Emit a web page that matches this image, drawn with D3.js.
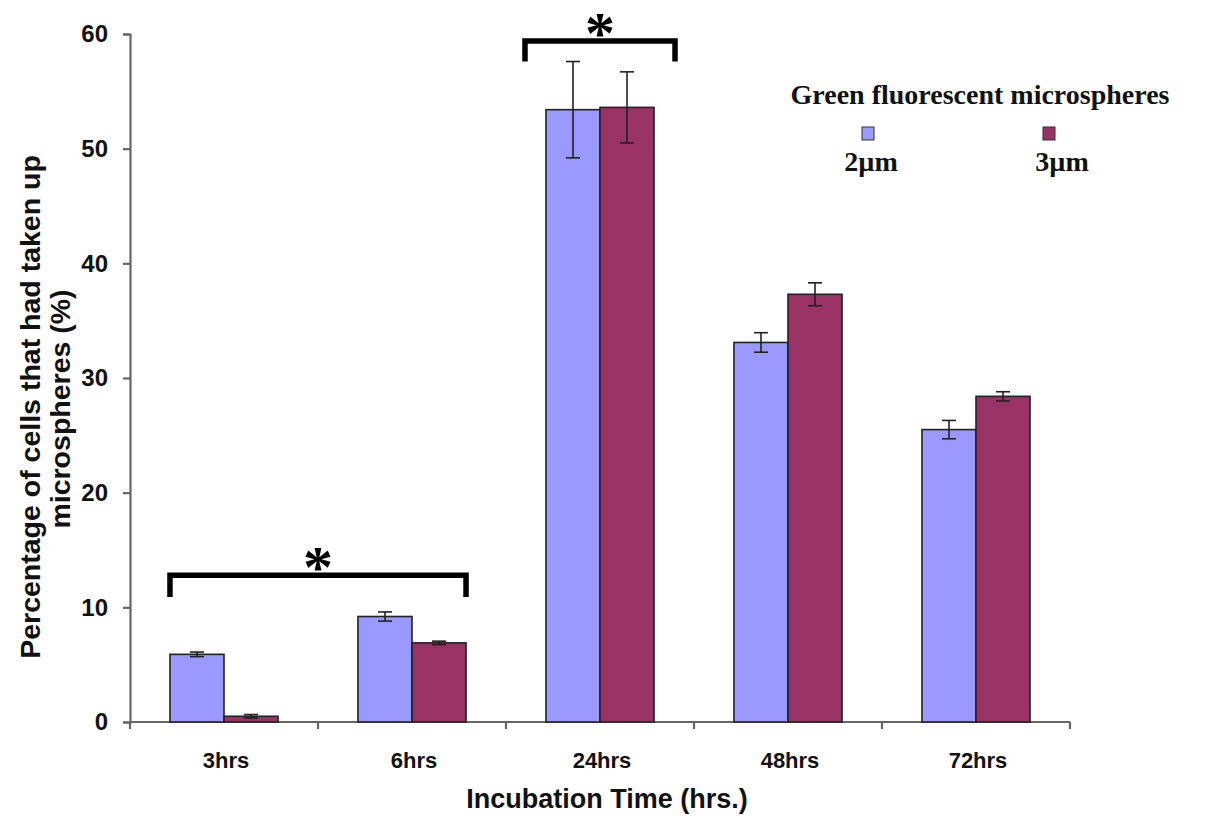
<!DOCTYPE html>
<html><head><meta charset="utf-8">
<script src="https://cdn.jsdelivr.net/npm/d3@7"></script>
<style>body{margin:0;background:#fff}svg{display:block}</style>
</head><body>
<svg id="c" width="1207" height="818"></svg>
<script>
const categories = ["3hrs","6hrs","24hrs","48hrs","72hrs"];
const seriesNames = ["2\u00b5m","3\u00b5m"];
const values2um = [5.9, 9.2, 53.4, 33.1, 25.5];
const values3um = [0.5, 6.9, 53.6, 37.3, 28.4];
const err2um = [0.2, 0.4, 4.2, 0.85, 0.8];
const err3um = [0.15, 0.15, 3.1, 1.0, 0.4];
const yTicks = [0,10,20,30,40,50,60];
const colors = ["#9999FF","#993366"];
const brackets = [
  {from:"3hrs", to:"6hrs", y:12.8, drop:1.9},
  {from:"24hrs", to:"24hrs", y:59.4, drop:1.8}
];

(function(){
const svg = d3.select("#c");
const sans = "Arial, 'Liberation Sans', sans-serif";
const serif = "'Times New Roman', 'Liberation Serif', serif";
const mLeft = 130, mRight = 1070, mTop = 34, mBottom = 722;
const x = d3.scaleBand().domain(categories).range([mLeft, mRight]).paddingInner(0).paddingOuter(0);
const xs = d3.scaleBand().domain([0,1]).range([0, x.bandwidth()]).paddingInner(0).paddingOuter(0.74);
const y = d3.scaleLinear().domain([0,60]).range([mBottom, mTop]);

// y axis
const yAxis = d3.axisLeft(y).tickValues(yTicks).tickSize(7).tickPadding(15);
const gy = svg.append("g").attr("transform",`translate(${mLeft},0)`).call(yAxis);
gy.select(".domain").attr("stroke","#666").attr("stroke-width",2.2);
gy.selectAll(".tick line").attr("stroke","#666").attr("stroke-width",2.2);
gy.selectAll("text").attr("font-family",sans).attr("font-weight","bold").attr("font-size",24).attr("fill","#111");

// x axis
const gx = svg.append("g").attr("transform",`translate(0,${mBottom})`);
gx.append("line").attr("x1",mLeft).attr("x2",mRight).attr("y1",0).attr("y2",0).attr("stroke","#666").attr("stroke-width",2.2);
const bounds = categories.map(c=>x(c)).concat([mRight]);
gx.selectAll("line.tk").data(bounds).enter().append("line").attr("class","tk")
  .attr("x1",d=>d).attr("x2",d=>d).attr("y1",0).attr("y2",7).attr("stroke","#666").attr("stroke-width",2.2);
gx.selectAll("text").data(categories).enter().append("text")
  .attr("x",d=>x(d)+x.bandwidth()/2+2).attr("y",46).attr("text-anchor","middle")
  .attr("font-family",sans).attr("font-weight","bold").attr("font-size",22).attr("fill","#111")
  .text(d=>d);

// bars
const data = categories.map((c,i)=>({c, vals:[values2um[i], values3um[i]], errs:[err2um[i], err3um[i]]}));
const grp = svg.append("g");
data.forEach(d=>{
  d.vals.forEach((v,s)=>{
    const bx = x(d.c)+xs(s);
    grp.append("rect").attr("x",bx).attr("y",y(v)).attr("width",xs.bandwidth()).attr("height",y(0)-y(v))
      .attr("fill",colors[s]).attr("stroke","#222").attr("stroke-width",1.6);
  });
});
// error bars
data.forEach(d=>{
  d.vals.forEach((v,s)=>{
    const cx = x(d.c)+xs(s)+xs.bandwidth()/2;
    const e = d.errs[s];
    const g = svg.append("g").attr("stroke","#222").attr("stroke-width",1.6);
    g.append("line").attr("x1",cx).attr("x2",cx).attr("y1",y(v+e)).attr("y2",y(v-e));
    g.append("line").attr("x1",cx-7).attr("x2",cx+7).attr("y1",y(v+e)).attr("y2",y(v+e));
    g.append("line").attr("x1",cx-7).attr("x2",cx+7).attr("y1",y(v-e)).attr("y2",y(v-e));
  });
});

// significance brackets
brackets.forEach(b=>{
  const ext = b.from === b.to ? 21 : 0;
  const x1 = x(b.from)+xs(0)-ext, x2 = x(b.to)+xs(1)+xs.bandwidth()+ext;
  svg.append("path").attr("d",`M${x1},${y(b.y-b.drop)}V${y(b.y)}H${x2}V${y(b.y-b.drop)}`)
    .attr("fill","none").attr("stroke","#000").attr("stroke-width",5.5);
  svg.append("text").attr("x",(x1+x2)/2).attr("y",y(b.y)+12).attr("text-anchor","middle")
    .attr("font-family",serif).attr("font-weight","bold").attr("font-size",60).attr("fill","#000")
    .text("*");
});

// axis titles
svg.append("text").attr("transform","translate(40,407) rotate(-90)").attr("text-anchor","middle")
  .attr("font-family",sans).attr("font-weight","bold").attr("font-size",28.5).attr("fill","#111")
  .text("Percentage of cells that had taken up");
svg.append("text").attr("transform","translate(70,409) rotate(-90)").attr("text-anchor","middle")
  .attr("font-family",sans).attr("font-weight","bold").attr("font-size",28.5).attr("fill","#111")
  .text("microspheres (%)");
svg.append("text").attr("x",607).attr("y",808).attr("text-anchor","middle")
  .attr("font-family",sans).attr("font-weight","bold").attr("font-size",27).attr("fill","#111")
  .text("Incubation Time (hrs.)");

// legend
const lg = svg.append("g");
lg.append("text").attr("x",980).attr("y",104).attr("text-anchor","middle")
  .attr("font-family",serif).attr("font-weight","bold").attr("font-size",28).attr("fill","#111")
  .text("Green fluorescent microspheres");
const swX = [868, 1049];
const labX = [871, 1062];
seriesNames.forEach((n,i)=>{
  lg.append("rect").attr("x",swX[i]-6).attr("y",127).attr("width",12).attr("height",13)
    .attr("fill",colors[i]).attr("stroke","#333").attr("stroke-width",1);
  lg.append("text").attr("x",labX[i]).attr("y",171).attr("text-anchor","middle")
    .attr("font-family",serif).attr("font-weight","bold").attr("font-size",28).attr("fill","#111")
    .text(n);
});
})();
</script>
</body></html>
